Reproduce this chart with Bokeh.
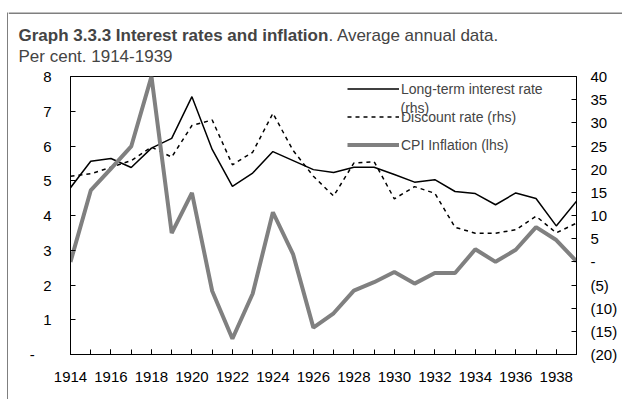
from bokeh.plotting import figure
from bokeh.layouts import column, row
from bokeh.models import (Range1d, LinearAxis, FixedTicker, Label, Legend,
                          LegendItem, ColumnDataSource, Span)
from bokeh.embed import file_html
from bokeh.resources import INLINE

years = list(range(1914, 1940))
long_term = [4.80, 5.56, 5.64, 5.38, 5.94, 6.22, 7.42, 5.90, 4.84, 5.22, 5.84, 5.58, 5.32,
             5.24, 5.39, 5.39, 5.18, 4.96, 5.03, 4.69, 4.63, 4.31, 4.65, 4.49, 3.70, 4.41]
discount = [5.13, 5.20, 5.39, 5.58, 5.97, 5.68, 6.59, 6.75, 5.46, 5.82, 6.94, 5.87, 5.13,
            4.56, 5.51, 5.55, 4.48, 4.83, 4.64, 3.66, 3.49, 3.49, 3.59, 3.98, 3.50, 3.78]
cpi = [0.0, 15.4, 20.1, 24.9, 40.0, 6.2, 14.9, -6.3, -16.6, -6.9, 10.7, 1.6, -14.2,
       -11.1, -6.2, -4.4, -2.2, -4.7, -2.4, -2.4, 2.7, 0.0, 2.6, 7.5, 4.7, 0.1]

x_label_years = list(range(1914, 1939, 2))
left_ticks = list(range(0, 9))
right_ticks = list(range(-20, 45, 5))

title_bold = "Graph 3.3.3 Interest rates and inflation"
title_rest = ". Average annual data."
subtitle = "Per cent. 1914-1939"

FONT = "Liberation Sans"
TH = 55      # title strip height
PH = 332     # chart height
W = 614
TFS = 17     # title font size (px)

# ---- left border strip -------------------------------------------------
s = figure(width=1, height=TH + PH, x_axis_type=None, y_axis_type=None,
           output_backend="svg", toolbar_location=None, min_border=0)
s.background_fill_color = "black"
s.border_fill_color = "black"
s.outline_line_color = None
s.xgrid.visible = False
s.ygrid.visible = False
s.frame_align = False

# ---- title strip -------------------------------------------------------
t = figure(width=W, height=TH, x_range=Range1d(0, W), y_range=Range1d(0, TH),
           x_axis_type=None, y_axis_type=None, output_backend="svg",
           toolbar_location=None, min_border=0)
t.outline_line_color = None
t.xgrid.visible = False
t.ygrid.visible = False
t.frame_align = False
t.add_layout(Span(location=TH - 0.5, dimension="width", line_color="black", line_width=1))
t.add_layout(Label(x=10, y=32.5, text=title_bold, text_font=FONT, text_font_style="bold",
                   text_font_size=f"{TFS}px", text_baseline="alphabetic"))
t.add_layout(Label(x=10 + 18.228 * TFS, y=32.5, text=title_rest, text_font=FONT,
                   text_font_size=f"{TFS}px", text_baseline="alphabetic"))
t.add_layout(Label(x=10, y=11.5, text=subtitle, text_font=FONT,
                   text_font_size=f"{TFS}px", text_baseline="alphabetic"))

# ---- main chart --------------------------------------------------------
src = ColumnDataSource(dict(year=years, lt=long_term, dr=discount, cpi=cpi))

p = figure(width=W, height=PH, x_range=Range1d(1914, 1939), y_range=Range1d(0, 8),
           output_backend="svg", toolbar_location=None,
           min_border_left=62, min_border_right=46, min_border_top=9, min_border_bottom=45)
p.frame_align = False
p.extra_y_ranges = {"cpi": Range1d(-20, 40)}

p.xgrid.visible = False
p.ygrid.visible = False
p.outline_line_color = "black"
p.outline_line_width = 1

xa = p.xaxis[0]
xa.ticker = FixedTicker(ticks=x_label_years, minor_ticks=years)
xa.major_tick_in = 5
xa.major_tick_out = 0
xa.minor_tick_in = 5
xa.minor_tick_out = 0
xa.major_label_standoff = 17

ya = p.yaxis[0]
ya.ticker = FixedTicker(ticks=left_ticks)
ya.major_label_overrides = {0: "-\u00a0\u00a0\u00a0\u00a0"}
ya.major_tick_in = 5
ya.major_tick_out = 0
ya.minor_tick_line_color = None
ya.major_label_standoff = 19

ra = LinearAxis(y_range_name="cpi", ticker=FixedTicker(ticks=right_ticks))
ra.major_label_overrides = {v: ("(%d)" % -v if v < 0 else ("-" if v == 0 else str(v)))
                            for v in right_ticks}
ra.major_tick_in = 5
ra.major_tick_out = 0
ra.minor_tick_line_color = None
ra.major_label_standoff = 14
p.add_layout(ra, "right")

for ax in (xa, ya, ra):
    ax.axis_line_color = "black"
    ax.major_tick_line_color = "black"
    ax.major_label_text_color = "black"
    ax.major_label_text_font = FONT
    ax.major_label_text_font_size = "15px"
xa.minor_tick_line_color = "black"

r_lt = p.line("year", "lt", source=src, line_color="black", line_width=1.5)
r_dr = p.line("year", "dr", source=src, line_color="black", line_width=1.5, line_dash="4 4")
r_cpi = p.line("year", "cpi", source=src, y_range_name="cpi", line_color="#808080",
               line_width=4)

legend = Legend(items=[LegendItem(label="Long-term interest rate", renderers=[r_lt]),
                       LegendItem(label="Discount rate (rhs)", renderers=[r_dr]),
                       LegendItem(label="CPI Inflation (lhs)", renderers=[r_cpi])],
                location=(277, 199), orientation="vertical", padding=0, margin=0,
                spacing=7, glyph_width=52, glyph_height=21, label_height=21,
                label_standoff=2, label_text_font=FONT, label_text_font_size="14px",
                border_line_alpha=0, background_fill_alpha=0)
p.add_layout(legend)

p.add_layout(Label(x=330, y=247, x_units="screen", y_units="screen", text="(rhs)",
                   text_font=FONT, text_font_size="14px", text_baseline="alphabetic"))

layout = row(s, column(t, p, spacing=0), spacing=0, margin=(12, 0, 0, 7))

open("out.html", "w").write(file_html(layout, INLINE))
